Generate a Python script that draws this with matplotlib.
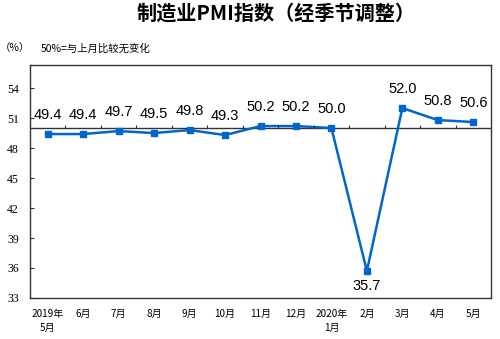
import numpy as np
import matplotlib
matplotlib.use('Agg')
import matplotlib.pyplot as plt

plt.rcParams['font.family'] = ['Noto Sans CJK SC', 'DejaVu Sans']

# 制造业PMI，2019年5月 - 2020年5月
months = ['2019年\n5月', '6月', '7月', '8月', '9月', '10月', '11月', '12月',
          '2020年\n1月', '2月', '3月', '4月', '5月']
pmi = [49.4, 49.4, 49.7, 49.5, 49.8, 49.3, 50.2, 50.2, 50.0, 35.7, 52.0, 50.8, 50.6]
yticks = [33, 36, 39, 42, 45, 48, 51, 54]

blue = '#0066cc'
dark = '#333333'

fig = plt.figure(figsize=(5.0, 3.39), dpi=100)
ax = fig.add_axes([0.06, 0.121, 0.922, 0.687])

x = np.arange(len(pmi))
ax.plot(x, pmi, '-s', color=blue, lw=1.8, ms=4.5)

# 50% 参考线，带分类刻度
ax.axhline(50, color=dark, lw=1.0, zorder=1)
ax.vlines(np.arange(0.5, len(pmi) - 1, 1), 50, 50.35, color=dark, lw=0.8)

for i, v in enumerate(pmi):
    if v < 40:
        ax.annotate('%.1f' % v, (i, v), xytext=(0, -6), textcoords='offset points',
                    ha='center', va='top', fontsize=10.5, family='Liberation Sans')
    else:
        ax.annotate('%.1f' % v, (i, v), xytext=(0, 8.5), textcoords='offset points',
                    ha='center', va='bottom', fontsize=10.5, family='Liberation Sans')

ax.set_xlim(-0.5, len(pmi) - 0.5)
ax.set_ylim(33, 56.3)
ax.set_yticks(yticks)
ax.set_yticklabels([str(t) for t in yticks], family='Liberation Serif', fontsize=8.5)
ax.tick_params(axis='y', direction='in', length=3, pad=8, color=dark)
ax.set_xticks(x)
ax.set_xticklabels(months, fontsize=7.2, linespacing=1.45, va='top')
ax.tick_params(axis='x', length=0, pad=8)

for s in ax.spines.values():
    s.set_color(dark)
    s.set_linewidth(1.0)

fig.text(0.552, 0.962, '制造业PMI指数（经季节调整）', ha='center', va='center',
         fontsize=14.5, fontweight='bold')
fig.text(0.0, 0.858, '（%）', ha='left', va='center', fontsize=7.5)
fig.text(0.082, 0.858, '50%=与上月比较无变化', ha='left', va='center', fontsize=7.5)

fig.savefig('out.png', dpi=100)
